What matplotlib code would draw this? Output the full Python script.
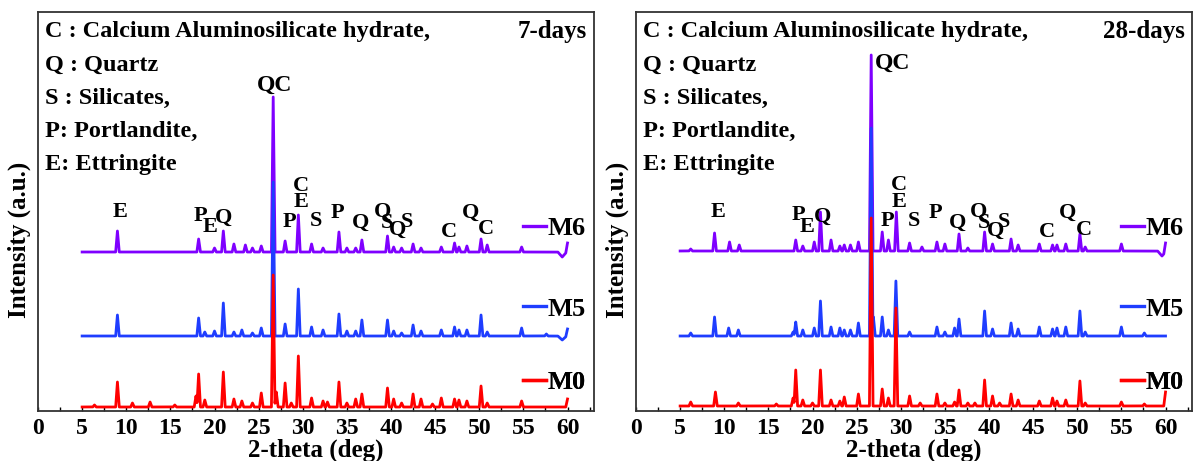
import numpy as np
import matplotlib
matplotlib.use('Agg')
import matplotlib.pyplot as plt
from matplotlib.ticker import MultipleLocator

plt.rcParams['font.family'] = ['Liberation Serif', 'DejaVu Serif']
plt.rcParams['font.weight'] = 'bold'

samples = ['M0', 'M5', 'M6']
colors = {'M0': '#ff0000', 'M5': '#1f3dff', 'M6': '#7f00ff'}

# 7 days: peak positions (2-theta) and heights (a.u.)
pos7_m0 = [6.4, 9.0, 10.7, 12.7, 15.5, 17.9, 18.2, 18.9, 21.0, 22.2, 23.1, 24.3, 25.3, 26.65, 27.0,
           28.0, 28.7, 29.5, 31.0, 32.3, 32.8, 34.1, 35.0, 36.0, 36.7, 39.6, 40.3, 41.2, 42.5,
           43.4, 44.7, 45.7, 47.2, 47.7, 48.6, 50.2, 50.9, 54.8, 60.0]
int7_m0 = [2, 25, 4, 5, 2, 11, 33, 7, 35, 8, 6, 4, 14, 132, 15,
           24, 4, 51, 9, 6, 5, 25, 4, 8, 13, 19, 8, 4, 13,
           8, 3, 9, 8, 7, 6, 21, 4, 6, 8]
pos7_m5 = [9.0, 18.2, 18.9, 20.0, 21.0, 22.2, 23.1, 24.3, 25.3, 26.65, 28.0, 29.5, 31.0, 32.3,
           34.1, 35.0, 36.0, 36.7, 39.6, 40.3, 41.2, 42.5, 43.4, 45.7, 47.2, 47.7, 48.6, 50.2,
           50.9, 54.8, 57.6, 59.4, 60.0]
int7_m5 = [21, 18, 4, 5, 33, 4, 6, 3, 8, 154, 12, 47, 9, 6,
           22, 5, 5, 16, 16, 5, 3, 11, 5, 6, 9, 6, 6, 21,
           4, 8, 2, -4, 7]
pos7_m6 = [9.0, 18.2, 20.0, 21.0, 22.2, 23.5, 24.3, 25.3, 26.65, 28.0, 29.5, 31.0, 32.3, 34.1,
           35.0, 36.0, 36.7, 39.6, 40.3, 41.2, 42.5, 43.4, 45.7, 47.2, 47.7, 48.6, 50.2, 50.9,
           54.8, 59.4, 60.0]
int7_m6 = [21, 13, 4, 21, 8, 7, 4, 6, 155, 11, 37, 8, 4, 20,
           4, 4, 12, 16, 5, 4, 8, 4, 5, 9, 5, 6, 13, 7,
           5, -5, 9]

# 28 days
pos28_m0 = [6.2, 9.0, 11.6, 15.9, 17.8, 18.1, 18.9, 20.0, 20.9, 22.1, 23.1, 23.6, 25.2, 26.65,
            27.9, 28.6, 29.45, 31.0, 32.2, 34.1, 35.0, 36.1, 36.6, 37.6, 38.4, 39.5, 40.4, 41.2,
            42.5, 43.3, 45.7, 47.2, 47.7, 48.7, 50.3, 50.9, 55.0, 57.6, 60.0]
int28_m0 = [4, 14, 3, 2, 8, 36, 6, 3, 36, 6, 5, 9, 12, 188,
            17, 8, 98, 10, 3, 12, 3, 4, 16, 3, 3, 26, 10, 3,
            12, 6, 5, 8, 5, 6, 25, 3, 4, 2, 14]
pos28_m5 = [6.2, 8.9, 10.5, 11.6, 17.8, 18.1, 18.9, 20.2, 20.9, 22.1, 23.1, 23.6, 24.3, 25.2,
            26.65, 26.9, 27.9, 28.6, 29.45, 31.0, 34.1, 35.0, 36.1, 36.6, 39.5, 40.4, 42.5, 43.3,
            45.7, 47.2, 47.7, 48.7, 50.3, 50.9, 55.0, 57.6]
int28_m5 = [3, 19, 8, 6, 4, 14, 6, 8, 35, 9, 8, 6, 6, 13,
            208, 19, 19, 6, 55, 4, 9, 4, 8, 17, 25, 7, 13, 7,
            9, 7, 8, 9, 25, 4, 9, 3]
pos28_m6 = [6.2, 8.9, 10.6, 11.7, 18.1, 18.9, 20.2, 20.9, 22.1, 23.1, 23.6, 24.3, 25.2, 26.65,
            27.9, 28.6, 29.5, 31.0, 32.4, 34.1, 35.0, 36.6, 37.6, 39.5, 40.4, 42.5, 43.3, 45.7,
            47.2, 47.7, 48.7, 50.3, 50.9, 55.0, 59.6, 60.0]
int28_m6 = [2, 18, 9, 6, 11, 5, 9, 39, 11, 5, 6, 6, 9, 196,
            19, 11, 39, 8, 4, 9, 7, 17, 3, 19, 7, 12, 6, 7,
            6, 6, 7, 17, 4, 7, -5, 9]

offsets7 = {'M0': 4, 'M5': 75, 'M6': 159}
offsets28 = {'M0': 5, 'M5': 75, 'M6': 160}

# phase labels: letter, 2-theta, height
lab7_txt = ['E', 'P', 'E', 'Q', 'P', 'C', 'E', 'S', 'P', 'Q', 'Q', 'S', 'Q', 'S', 'C', 'Q', 'C']
lab7_x = [9.3, 18.4, 19.5, 21.0, 28.5, 29.8, 29.8, 31.5, 33.9, 36.5, 39.0, 39.5, 40.7, 41.8, 46.6, 49.0, 50.8]
lab7_y = [199, 195, 184, 193, 189, 225, 209, 190, 198, 188, 199, 188, 181, 189, 179, 198, 182]
lab28_txt = lab7_txt
lab28_x = [9.3, 18.4, 19.4, 21.1, 28.5, 29.8, 29.8, 31.5, 33.9, 36.4, 38.8, 39.4, 40.7, 41.7, 46.6, 48.9, 50.8]
lab28_y = [199, 196, 184, 194, 190, 226, 209, 190, 198, 188, 199, 188, 180, 189, 179, 198, 181]

key_lines = ['C : Calcium Aluminosilicate hydrate,', 'Q : Quartz', 'S : Silicates,',
             'P: Portlandite,', 'E: Ettringite']


def pattern(tt, pos, inten, w=0.2):
    y = np.zeros_like(tt)
    for p, h in zip(pos, inten):
        if h > 0:
            y = np.maximum(y, h * np.clip(1 - np.abs(tt - p) / w, 0, None))
    for p, h in zip(pos, inten):
        if h < 0:
            y = y + h * np.clip(1 - np.abs(tt - p) / 0.5, 0, None)
    return y


tt = np.linspace(5, 60, 5501)
panels = [
    ('7-days', {'M0': (pos7_m0, int7_m0), 'M5': (pos7_m5, int7_m5), 'M6': (pos7_m6, int7_m6)},
     offsets7, lab7_txt, lab7_x, lab7_y, (26.76, 326)),
    ('28-days', {'M0': (pos28_m0, int28_m0), 'M5': (pos28_m5, int28_m5), 'M6': (pos28_m6, int28_m6)},
     offsets28, lab28_txt, lab28_x, lab28_y, (29.1, 348)),
]

fig = plt.figure(figsize=(11.94, 4.61), dpi=100)
lefts = [38 / 1194, 636 / 1194]
leg_y = {'M6': 0.458, 'M5': 0.256, 'M0': 0.072}

for (title, data, offs, ltxt, lx, ly, qc), left in zip(panels, lefts):
    ax = fig.add_axes([left, 50 / 461, 556 / 1194, 399 / 461])
    lines = {}
    for s in ['M6', 'M5', 'M0']:
        p, h = data[s]
        lines[s], = ax.plot(tt, pattern(tt, p, h) + offs[s], color=colors[s], lw=2)
    ax.set_xlim(0, 63)
    ax.set_ylim(0, 399)
    ax.set_yticks([])
    ax.xaxis.set_major_locator(MultipleLocator(5))
    ax.xaxis.set_minor_locator(MultipleLocator(2.5))
    ax.tick_params(axis='x', direction='in', length=3, width=1, which='both', pad=5, labelsize=17)
    for sp in ax.spines.values():
        sp.set_linewidth(1.3)
        sp.set_color('#333333')
    ax.set_xlabel('2-theta (deg)', fontsize=18, fontweight='bold', labelpad=0)
    ax.set_ylabel('Intensity (a.u.)', fontsize=18, fontweight='bold')
    ax.yaxis.set_label_coords(-0.012, 0.43)

    for i, t in enumerate(key_lines):
        ax.text(0.012, 0.950 - i * 0.0832, t, transform=ax.transAxes, fontsize=17.5,
                fontweight='bold', va='center', ha='left')
    ax.text(0.988, 0.950, title, transform=ax.transAxes, fontsize=18, fontweight='bold',
            va='center', ha='right')

    for t, x, y in zip(ltxt, lx, ly):
        ax.text(x, y, t, fontsize=16, fontweight='bold', ha='center', va='center')
    ax.text(qc[0], qc[1], 'QC', fontsize=17, fontweight='bold', ha='center', va='center')

    for s in ['M6', 'M5', 'M0']:
        leg = ax.legend([lines[s]], [s], loc='center left', bbox_to_anchor=(0.872, leg_y[s]),
                        frameon=False, handlelength=0.87, handletextpad=0.05, borderpad=0,
                        borderaxespad=0, prop={'size': 19, 'weight': 'bold'})
        for hl in leg.get_lines():
            hl.set_linewidth(2.4)
        ax.add_artist(leg)

fig.savefig('out.png', dpi=100)
